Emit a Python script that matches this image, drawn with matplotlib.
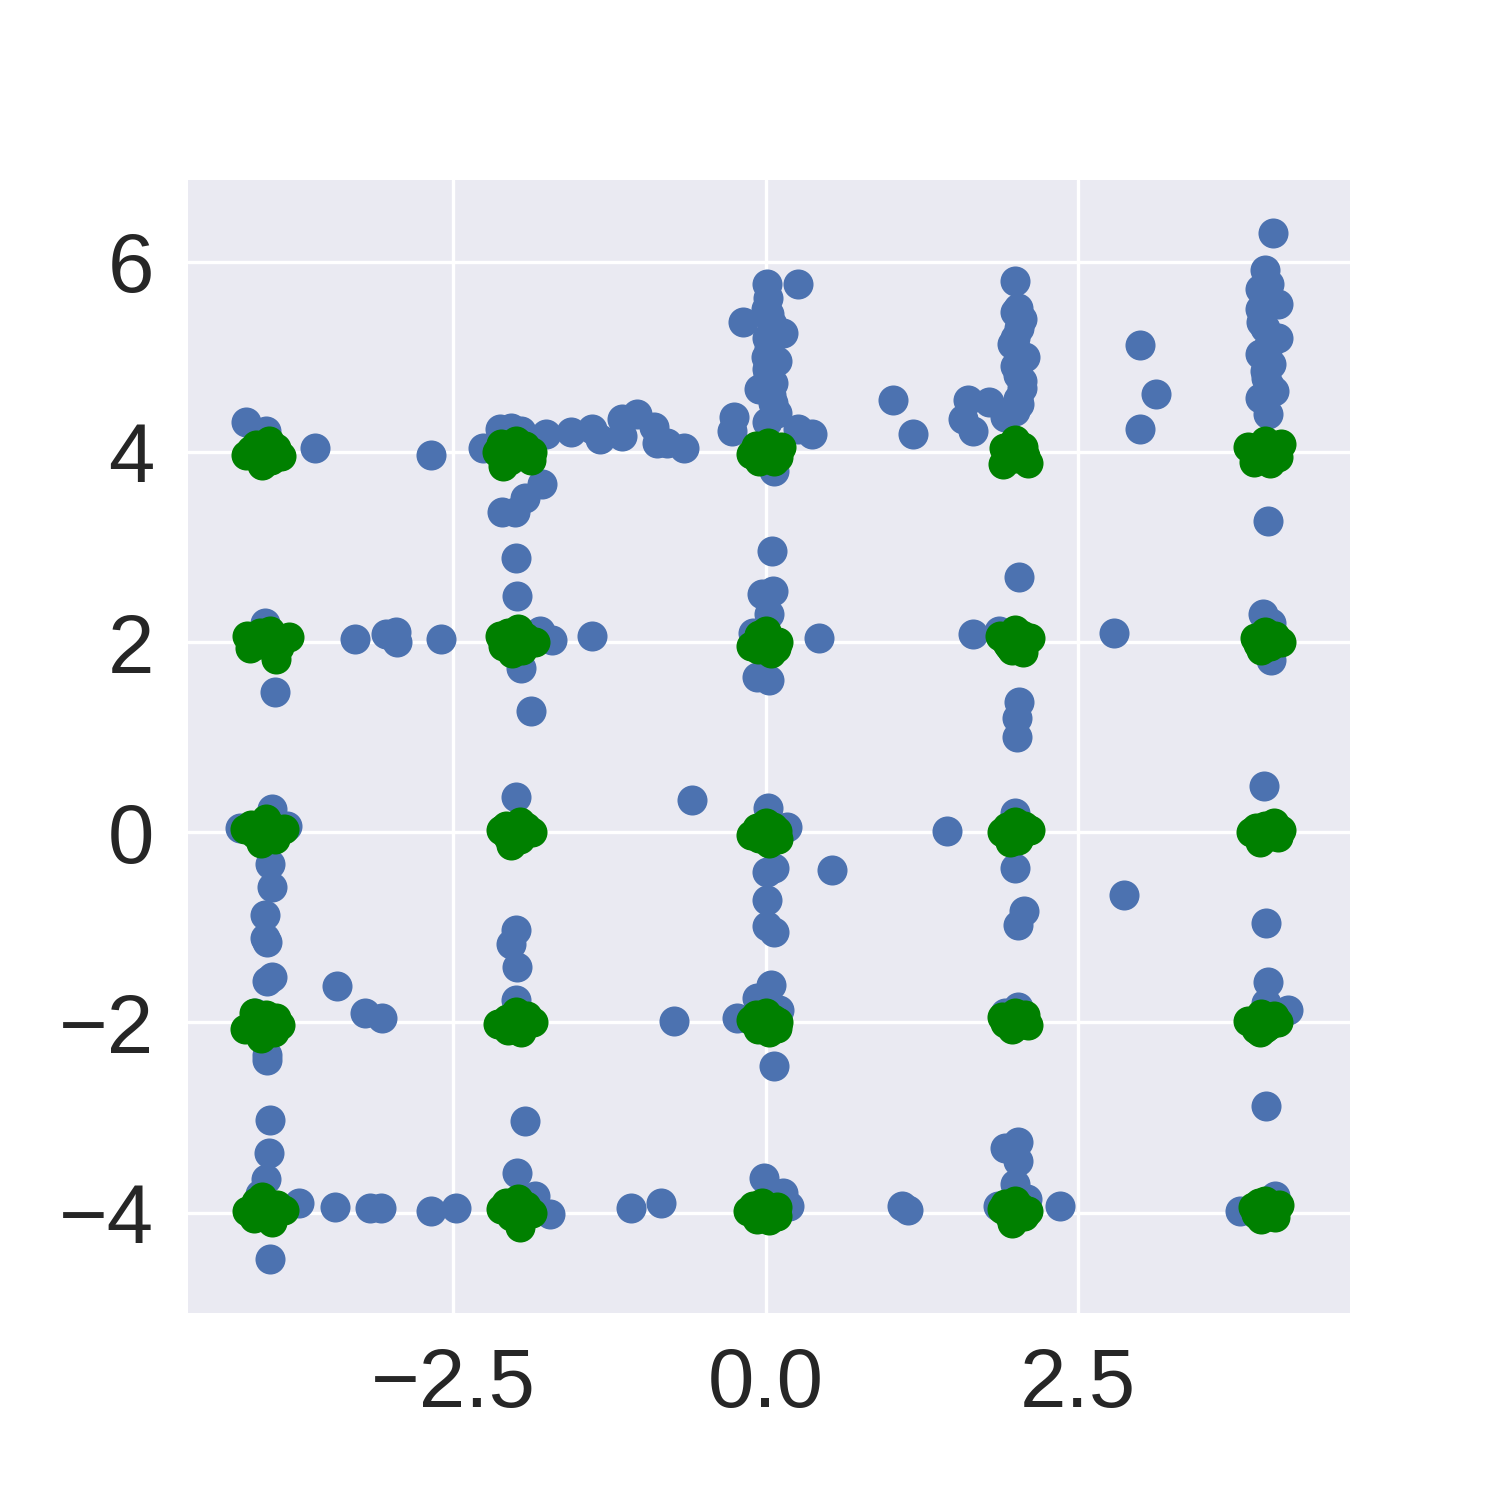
import matplotlib
matplotlib.use("Agg")
import matplotlib.pyplot as plt
import seaborn as sns

# ---- blue samples ----
blue_pts = [
    # top row, around y = 4
    (-4.16, 4.32), (-4.00, 4.22), (-3.61, 4.04), (-2.68, 3.97), (-2.26, 4.04),
    (-2.13, 4.24), (-2.04, 4.25), (-1.96, 4.22), (-1.76, 4.19), (-1.56, 4.21),
    (-1.39, 4.24), (-1.33, 4.14), (-1.15, 4.17), (-1.15, 4.35), (-1.03, 4.40),
    (-0.89, 4.26), (-0.87, 4.09), (-0.79, 4.09), (-0.65, 4.04),
    (-1.79, 3.66), (-1.93, 3.52), (-2.11, 3.37), (-2.01, 3.37), (-2.00, 2.89),
    (-1.99, 2.49),
    (0.01, 5.77), (0.26, 5.77), (-0.18, 5.37), (0.02, 5.62), (0.03, 5.45),
    (0.14, 5.25), (0.01, 5.20), (0.03, 5.09), (0.09, 4.96), (0.01, 4.87),
    (0.06, 4.72), (-0.05, 4.66), (0.06, 4.51), (0.09, 4.41), (0.01, 4.32),
    (-0.25, 4.37), (-0.27, 4.22), (0.26, 4.24), (0.37, 4.19), (0.07, 3.80),
    (0.05, 2.96), (0.00, 5.50), (0.05, 5.35), (0.00, 5.00), (0.04, 4.60),
    (0.02, 4.80),
    (1.02, 4.55), (1.18, 4.19), (1.62, 4.55), (1.58, 4.35), (1.66, 4.22),
    (1.79, 4.53),
    (2.00, 5.80), (2.02, 5.51), (2.00, 5.47), (2.03, 5.30), (1.97, 5.14),
    (2.08, 5.00), (2.00, 4.90), (2.02, 4.81), (2.05, 4.67), (2.02, 4.56),
    (2.00, 4.43), (1.92, 4.37), (2.05, 5.40), (2.00, 5.20), (2.05, 4.75),
    (2.03, 4.50),
    (3.00, 5.13), (3.13, 4.61), (3.00, 4.24),
    (4.06, 6.30), (4.00, 5.91), (4.03, 5.77), (3.96, 5.71), (4.10, 5.56),
    (3.96, 5.50), (3.97, 5.37), (4.10, 5.20), (3.96, 5.03), (4.05, 4.92),
    (4.01, 4.78), (4.07, 4.64), (3.96, 4.57), (4.02, 4.40), (4.00, 5.30),
    (4.02, 5.10), (4.00, 4.85), (4.03, 4.70),
    (4.02, 3.27), (2.03, 2.68),
    # y = 2
    (-4.01, 2.20), (-3.93, 1.48), (-3.29, 2.03), (-3.04, 2.09), (-2.96, 2.11),
    (-2.95, 2.00), (-2.60, 2.03),
    (-1.81, 2.12), (-1.71, 2.02), (-1.96, 1.73), (-1.88, 1.28), (-1.39, 2.06),
    (-0.03, 2.51), (0.06, 2.54), (0.03, 2.30), (-0.10, 2.10), (0.43, 2.04),
    (-0.07, 1.63), (0.03, 1.60),
    (1.66, 2.09), (1.87, 2.12), (2.03, 1.37), (2.01, 1.20), (2.01, 1.00),
    (2.79, 2.10), (3.98, 2.30), (4.05, 2.20), (4.05, 1.81),
    # y = 0
    (-4.21, 0.05), (-3.95, 0.25), (-3.83, 0.07), (-3.97, -0.33), (-3.95, -0.58),
    (-4.01, -0.87), (-3.99, -1.15), (-4.01, -1.11),
    (-2.00, 0.37), (-2.10, 0.03), (-2.00, -1.03), (-2.04, -1.17), (-1.99, -1.42),
    (-2.00, -1.76),
    (-0.59, 0.34), (0.02, 0.26), (0.17, 0.06), (1.45, 0.01), (0.53, -0.40),
    (0.01, -0.42), (0.07, -0.38), (0.01, -0.71), (0.01, -0.99), (0.07, -1.05),
    (2.00, 0.20), (2.00, -0.38), (2.07, -0.83), (2.02, -0.98), (2.87, -0.66),
    (3.99, 0.49), (4.01, -0.95),
    # y = -2 and y = -4
    (-3.95, -1.52), (-3.99, -1.56), (-3.43, -1.62), (-3.21, -1.90), (-3.07, -1.95),
    (-3.99, -2.34), (-3.99, -2.39), (-4.09, -1.90),
    (-3.97, -3.03), (-3.98, -3.37), (-4.00, -3.65), (-3.74, -3.90), (-3.45, -3.94),
    (-3.17, -3.95), (-3.08, -3.95), (-2.68, -3.98), (-2.48, -3.95), (-3.97, -4.49),
    (-4.05, -3.80),
    (-1.93, -3.04), (-1.99, -3.58), (-1.85, -3.83), (-1.73, -4.01),
    (-0.73, -1.98), (-0.23, -1.95), (0.04, -1.61), (-0.07, -1.74), (0.11, -1.87),
    (0.07, -2.46),
    (-1.08, -3.95), (-0.84, -3.90), (-0.01, -3.64), (0.14, -3.79), (0.19, -3.93),
    (1.09, -3.93), (1.14, -3.97),
    (2.02, -1.84), (1.92, -1.90), (4.02, -1.57), (4.01, -1.80), (4.18, -1.87),
    (4.01, -2.88),
    (2.02, -3.26), (1.92, -3.32), (2.02, -3.46), (2.00, -3.70), (2.09, -3.86),
    (1.86, -3.93), (2.36, -3.93), (3.80, -3.98), (4.08, -3.83),
]

# ---- green samples: tight clusters on the grid points ----
green_pts = [
    # x = -4
    (-4.16, 3.97), (-3.98, 4.12), (-3.88, 3.96), (-4.03, 3.86), (-4.08, 4.07), (-3.92, 4.04), (-4.12, 4.02), (-3.96, 3.92),
    (-4.13, 1.94), (-3.97, 2.12), (-3.82, 2.05), (-3.92, 1.82), (-4.04, 1.98), (-4.15, 2.06), (-4.05, 2.10), (-3.90, 1.95),
    (-4.17, 0.03), (-4.00, 0.14), (-3.86, 0.03), (-4.04, -0.11), (-3.93, -0.07), (-4.09, -0.02), (-3.96, 0.07), (-4.12, 0.08),
    (-4.17, -2.07), (-4.00, -1.92), (-3.89, -2.03), (-4.04, -2.16), (-4.10, -1.90), (-3.94, -2.10), (-3.92, -1.95), (-4.08, -2.00),
    (-4.08, -3.89), (-3.97, -4.05), (-3.86, -3.97), (-4.10, -4.06), (-4.03, -3.84), (-3.91, -3.92), (-4.15, -3.98), (-3.95, -4.10),
    # x = -2
    (-2.15, 4.00), (-2.00, 4.12), (-1.87, 4.00), (-2.10, 3.85), (-1.93, 4.06), (-2.05, 3.92), (-1.88, 3.92), (-2.12, 4.08),
    (-2.13, 2.06), (-1.98, 2.14), (-1.85, 2.00), (-2.03, 1.89), (-2.10, 1.96), (-1.93, 2.05), (-1.95, 1.92), (-2.06, 2.10),
    (-2.12, 0.02), (-1.97, 0.11), (-1.87, 0.00), (-2.04, -0.13), (-1.97, -0.07), (-2.08, 0.07), (-1.92, 0.06), (-2.06, -0.05),
    (-2.14, -2.02), (-2.00, -1.89), (-1.86, -2.00), (-1.96, -2.10), (-2.07, -1.96), (-1.91, -1.93), (-2.06, -2.08), (-1.94, -2.05),
    (-2.12, -3.96), (-1.98, -3.86), (-1.87, -4.00), (-1.97, -4.15), (-2.04, -4.04), (-1.92, -3.93), (-2.08, -3.90), (-1.95, -4.07),
    # x = 0
    (-0.12, 3.98), (0.02, 4.09), (0.12, 4.05), (0.07, 3.91), (-0.05, 3.91), (0.00, 4.00), (-0.08, 4.06), (0.10, 3.95),
    (-0.12, 1.96), (0.00, 2.12), (0.10, 2.00), (0.04, 1.89), (-0.06, 1.93), (0.03, 2.05), (-0.05, 2.07), (0.08, 1.94),
    (-0.12, -0.03), (0.00, 0.10), (0.09, 0.01), (0.03, -0.11), (-0.05, -0.06), (0.06, 0.06), (-0.07, 0.05), (0.10, -0.07),
    (-0.12, -1.97), (0.00, -1.90), (0.10, -2.00), (0.03, -2.10), (-0.06, -2.07), (0.06, -1.96), (-0.08, -1.92), (0.09, -2.06),
    (-0.14, -3.98), (-0.03, -3.90), (0.09, -3.94), (0.03, -4.08), (-0.07, -4.07), (0.09, -4.03), (-0.10, -3.93), (0.00, -4.00),
    # x = 2
    (1.91, 4.04), (2.00, 4.13), (2.08, 3.96), (1.90, 3.87), (2.10, 3.88), (2.00, 3.94), (2.06, 4.05), (1.94, 3.95),
    (1.88, 2.06), (2.00, 2.13), (2.12, 2.04), (1.97, 1.92), (2.06, 1.90), (1.93, 1.99), (2.05, 2.08), (1.95, 1.96),
    (1.89, 0.00), (2.00, 0.11), (2.12, 0.02), (1.96, -0.10), (2.04, -0.04), (1.93, 0.06), (2.07, 0.07), (2.02, -0.08),
    (1.89, -1.94), (2.00, -1.90), (2.10, -2.03), (1.97, -2.07), (2.03, -1.97), (1.92, -2.01), (2.08, -1.92), (1.99, -2.05),
    (1.89, -3.96), (2.00, -3.88), (2.07, -4.04), (1.97, -4.11), (2.04, -3.94), (1.95, -4.02), (2.10, -3.98), (1.92, -3.91),
    # x = 4
    (3.86, 4.05), (4.00, 4.11), (4.13, 4.08), (3.91, 3.89), (4.04, 3.88), (4.07, 4.00), (3.95, 3.98), (4.10, 3.95),
    (3.92, 2.04), (4.00, 2.11), (4.13, 2.00), (3.97, 1.92), (4.04, 1.96), (3.94, 1.98), (4.08, 2.06), (3.99, 2.00),
    (3.89, 0.00), (4.00, 0.07), (4.13, 0.02), (3.96, -0.10), (4.04, -0.04), (4.07, 0.10), (3.93, 0.05), (4.10, -0.05),
    (3.86, -1.98), (3.97, -1.91), (4.07, -1.93), (3.96, -2.10), (4.03, -2.03), (3.93, -2.07), (4.10, -2.00), (4.00, -2.06),
    (3.90, -3.94), (4.00, -3.88), (4.11, -3.92), (3.97, -4.07), (4.03, -4.03), (3.93, -4.01), (4.08, -4.05), (3.95, -3.90),
]

blue_x = [p[0] for p in blue_pts]
blue_y = [p[1] for p in blue_pts]
green_x = [p[0] for p in green_pts]
green_y = [p[1] for p in green_pts]

sns.set_style("darkgrid")
plt.rcParams["font.family"] = ["Liberation Sans", "DejaVu Sans"]

fig, ax = plt.subplots(figsize=(5, 5), dpi=300)
fig.subplots_adjust(left=0.125, right=0.9, bottom=0.125, top=0.88)
ax.scatter(blue_x, blue_y, s=52, color="#4C72B0", linewidths=0)
ax.scatter(green_x, green_y, s=52, color="green", linewidths=0)

ax.set_xlim(-4.63, 4.68)
ax.set_ylim(-5.05, 6.86)
ax.set_xticks([-2.5, 0.0, 2.5])
ax.set_yticks([-4, -2, 0, 2, 4, 6])
ax.tick_params(labelsize=20, length=0, pad=8)
for line in ax.get_xgridlines() + ax.get_ygridlines():
    line.set_linewidth(0.8)
for spine in ax.spines.values():
    spine.set_visible(False)

fig.savefig("out.png", dpi=300)
